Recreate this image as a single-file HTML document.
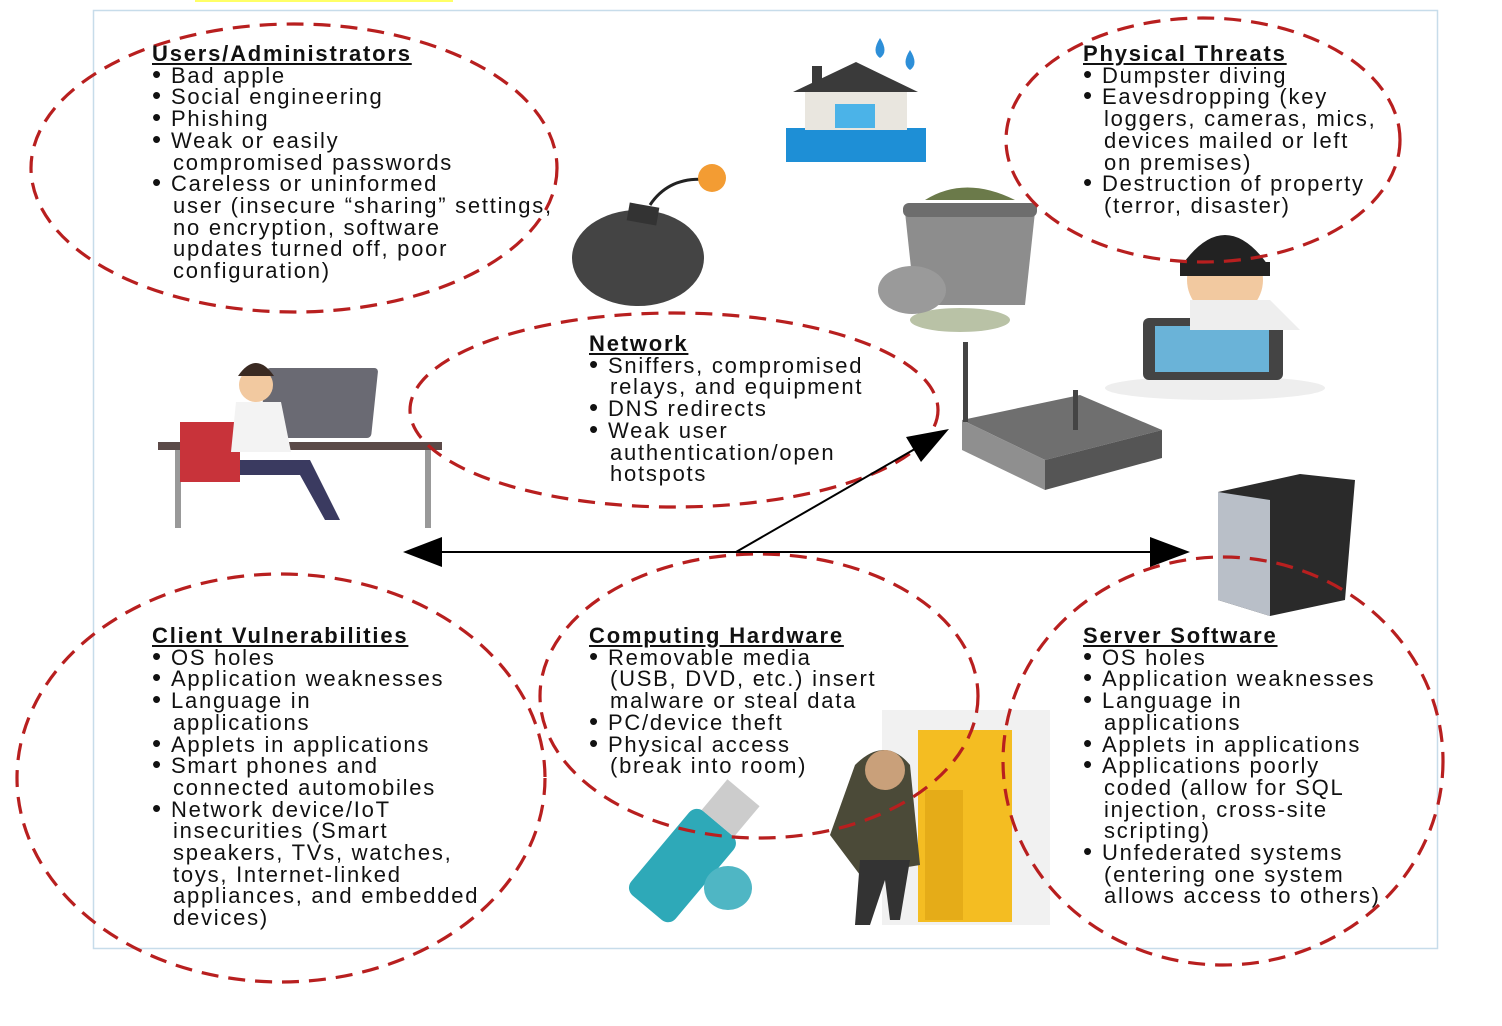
<!DOCTYPE html>
<html><head><meta charset="utf-8"><style>
html,body{margin:0;padding:0;background:#fff;}
body{width:1502px;height:1026px;position:relative;overflow:hidden;font-family:"Liberation Sans",Arial,sans-serif;}
.t{position:absolute;font-size:22px;letter-spacing:1.75px;line-height:21.7px;color:#111;white-space:nowrap;}
.t b{text-decoration:underline;display:block;letter-spacing:1.8px;}
.t div{padding-left:19px;}
.t div i{font-style:normal;display:inline-block;width:19px;margin-left:-19px;font-size:26px;line-height:10px;}
.t div.c{padding-left:21px;}
svg{position:absolute;left:0;top:0;}
</style></head><body>
<svg width="1502" height="1026" viewBox="0 0 1502 1026">
<rect x="195" y="0" width="258" height="2" fill="#ffff66"/>
<rect x="93.5" y="10.5" width="1344" height="938" fill="none" stroke="#c7dcea" stroke-width="1.5"/>
<rect x="786" y="128" width="140" height="34" fill="#1e8fd6"/>
<rect x="805" y="88" width="102" height="42" fill="#e9e6df"/>
<polygon points="793,92 856,62 918,92" fill="#3a3a3a"/>
<rect x="812" y="66" width="10" height="20" fill="#3a3a3a"/>
<rect x="835" y="104" width="40" height="24" fill="#4bb3e8"/>
<path d="M880,38 q-9,14 0,20 q9,-6 0,-20z" fill="#2d8fd8"/>
<path d="M910,50 q-9,14 0,20 q9,-6 0,-20z" fill="#2d8fd8"/>
<ellipse cx="638" cy="258" rx="66" ry="48" fill="#444"/>
<rect x="628" y="205" width="30" height="18" fill="#333" transform="rotate(10 643 214)"/>
<path d="M650,205 q20,-30 60,-25" stroke="#222" stroke-width="3" fill="none"/>
<circle cx="712" cy="178" r="14" fill="#f39c33"/>
<ellipse cx="960" cy="320" rx="50" ry="12" fill="#8a9a6a" opacity=".6"/>
<path d="M905,212 L1035,212 L1025,305 L915,305 Z" fill="#8d8d8d"/>
<rect x="903" y="203" width="134" height="14" rx="6" fill="#6d6d6d"/>
<path d="M925,200 q40,-25 90,0" fill="#6b7a4a"/>
<ellipse cx="912" cy="290" rx="34" ry="24" fill="#9a9a9a"/>
<ellipse cx="1215" cy="388" rx="110" ry="12" fill="#eee"/>
<rect x="1143" y="318" width="140" height="62" rx="6" fill="#444"/>
<rect x="1155" y="326" width="114" height="46" fill="#6ab3d8"/>
<circle cx="1225" cy="280" r="38" fill="#f2c9a0"/>
<path d="M1182,265 q43,-60 86,0z" fill="#222"/>
<rect x="1180" y="262" width="90" height="14" fill="#222"/>
<path d="M1190,300 l80,0 l30,30 l-110,0z" fill="#eee"/>
<rect x="158" y="442" width="284" height="8" fill="#5b4a48"/>
<rect x="305" y="368" width="112" height="70" rx="4" fill="#6a6a73" transform="skewX(-6)"/>
<rect x="175" y="450" width="6" height="78" fill="#999"/>
<rect x="425" y="450" width="6" height="78" fill="#999"/>
<rect x="180" y="422" width="60" height="60" fill="#c8333a"/>
<circle cx="256" cy="385" r="17" fill="#f2c9a0"/>
<path d="M238,376 q18,-26 36,0z" fill="#3a2a22"/>
<path d="M236,402 l45,0 l10,50 l-60,0z" fill="#f3f3f3"/>
<path d="M240,460 l70,0 l30,60 l-15,0 l-25,-45 l-60,0z" fill="#3a3a60"/>
<polygon points="962,420 1080,395 1162,430 1045,460" fill="#6f6f6f"/>
<polygon points="962,420 1045,460 1045,490 962,450" fill="#8f8f8f"/>
<polygon points="1045,460 1162,430 1162,458 1045,490" fill="#555"/>
<rect x="963" y="342" width="5" height="80" fill="#444"/>
<rect x="1073" y="390" width="5" height="40" fill="#444"/>
<polygon points="1218,492 1300,474 1355,480 1345,600 1270,616 1218,600" fill="#2a2a2a"/>
<polygon points="1218,492 1270,500 1270,616 1218,600" fill="#b9bfc8"/>
<g transform="rotate(-50 680 870)">
<rect x="630" y="840" width="110" height="58" rx="10" fill="#2ea9b8"/>
<rect x="740" y="848" width="40" height="42" fill="#ccc"/>
</g>
<ellipse cx="728" cy="888" rx="24" ry="22" fill="#4fb6c4"/>
<rect x="882" y="710" width="168" height="215" fill="#f1f1f1"/>
<rect x="918" y="730" width="94" height="192" fill="#f4bd22"/>
<rect x="925" y="790" width="38" height="130" fill="#e5ac18"/>
<path d="M855,765 q30,-30 55,0 l10,100 l-60,10 l-30,-40z" fill="#4b4a38"/>
<circle cx="885" cy="770" r="20" fill="#c9a07a"/>
<path d="M860,860 l50,0 l-10,60 l-10,0 l-5,-40 l-15,45 l-15,0z" fill="#333"/>
<g fill="none" stroke="#b81f1f" stroke-width="3.2" stroke-dasharray="17 10">
<ellipse cx="294" cy="168" rx="263" ry="144"/>
<ellipse cx="1203" cy="140" rx="197" ry="122"/>
<ellipse cx="674" cy="410" rx="264" ry="97"/>
<ellipse cx="281" cy="778" rx="264" ry="204"/>
<ellipse cx="759" cy="696" rx="219" ry="142"/>
<ellipse cx="1223" cy="761" rx="220" ry="204"/>
</g>
<line x1="440" y1="552" x2="1152" y2="552" stroke="#000" stroke-width="2"/>
<polygon points="403,552 442,537 442,567" fill="#000"/>
<polygon points="1190,552 1150,537 1150,567" fill="#000"/>
<line x1="736" y1="552" x2="920" y2="446" stroke="#000" stroke-width="2"/>
<polygon points="949,429 906,437 921,462" fill="#000"/>
</svg>

<div class="t" style="left:152px;top:43px;"><b>Users/Administrators</b>
<div><i>•</i>Bad apple</div><div><i>•</i>Social engineering</div><div><i>•</i>Phishing</div><div><i>•</i>Weak or easily</div><div class="c">compromised passwords</div><div><i>•</i>Careless or uninformed</div><div class="c">user (insecure “sharing” settings,</div><div class="c">no encryption, software</div><div class="c">updates turned off, poor</div><div class="c">configuration)</div></div>

<div class="t" style="left:1083px;top:43px;"><b>Physical Threats</b>
<div><i>•</i>Dumpster diving</div><div><i>•</i>Eavesdropping (key</div><div class="c">loggers, cameras, mics,</div><div class="c">devices mailed or left</div><div class="c">on premises)</div><div><i>•</i>Destruction of property</div><div class="c">(terror, disaster)</div></div>

<div class="t" style="left:589px;top:333px;"><b>Network</b>
<div><i>•</i>Sniffers, compromised</div><div class="c">relays, and equipment</div><div><i>•</i>DNS redirects</div><div><i>•</i>Weak user</div><div class="c">authentication/open</div><div class="c">hotspots</div></div>

<div class="t" style="left:152px;top:625px;"><b>Client Vulnerabilities</b>
<div><i>•</i>OS holes</div><div><i>•</i>Application weaknesses</div><div><i>•</i>Language in</div><div class="c">applications</div><div><i>•</i>Applets in applications</div><div><i>•</i>Smart phones and</div><div class="c">connected automobiles</div><div><i>•</i>Network device/IoT</div><div class="c">insecurities (Smart</div><div class="c">speakers, TVs, watches,</div><div class="c">toys, Internet-linked</div><div class="c">appliances, and embedded</div><div class="c">devices)</div></div>

<div class="t" style="left:589px;top:625px;"><b>Computing Hardware</b>
<div><i>•</i>Removable media</div><div class="c">(USB, DVD, etc.) insert</div><div class="c">malware or steal data</div><div><i>•</i>PC/device theft</div><div><i>•</i>Physical access</div><div class="c">(break into room)</div></div>

<div class="t" style="left:1083px;top:625px;"><b>Server Software</b>
<div><i>•</i>OS holes</div><div><i>•</i>Application weaknesses</div><div><i>•</i>Language in</div><div class="c">applications</div><div><i>•</i>Applets in applications</div><div><i>•</i>Applications poorly</div><div class="c">coded (allow for SQL</div><div class="c">injection, cross-site</div><div class="c">scripting)</div><div><i>•</i>Unfederated systems</div><div class="c">(entering one system</div><div class="c">allows access to others)</div></div>
</body></html>
